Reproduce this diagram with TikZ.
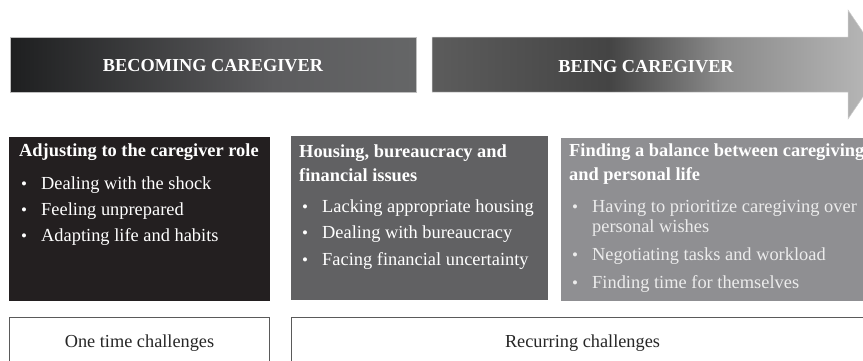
\documentclass[tikz,border=0pt]{standalone}
\usepackage{fontspec}
\setmainfont{Liberation Serif}
\definecolor{boxA}{HTML}{231F20}
\definecolor{boxB}{HTML}{616163}
\definecolor{boxC}{HTML}{8F8F92}
\definecolor{lightTxt}{HTML}{ECECEC}
\definecolor{frameGray}{HTML}{5A5A5A}
\definecolor{sa}{HTML}{1E1F20}
\definecolor{sb}{HTML}{5C5C5E}
\definecolor{sc}{HTML}{656667}
\definecolor{ra}{HTML}{5C5C5C}
\definecolor{rb}{HTML}{444444}
\definecolor{rc}{HTML}{8A8A8A}
\definecolor{rd}{HTML}{BBBBBB}
\pgfdeclarehorizontalshading{barshade}{100bp}{color(0bp)=(sa); color(25bp)=(sa); color(57.5bp)=(sb); color(75bp)=(sc); color(100bp)=(sc)}
\pgfdeclarehorizontalshading{arrowshade}{100bp}{color(0bp)=(ra); color(25bp)=(ra); color(44.5bp)=(rb); color(57bp)=(rc); color(75bp)=(rd); color(100bp)=(rd)}
\tikzset{
  hdr/.style={text=white, font=\fontsize{18.3}{21}\selectfont\bfseries, inner sep=0pt},
  ttl/.style={anchor=base west, inner sep=0pt, text=white, font=\fontsize{18.4}{21}\selectfont\bfseries},
  itm/.style={anchor=base west, inner sep=0pt, text=white, font=\fontsize{18.4}{21}\selectfont},
  itmC/.style={itm, text=lightTxt},
  dot/.style={anchor=base west, inner sep=0pt, text=white, font=\fontsize{17}{21}\selectfont},
  dotC/.style={dot, text=lightTxt},
  frame/.style={draw=frameGray, line width=1pt, fill=white},
  btxt/.style={anchor=base, inner sep=0pt, text=black!85, font=\fontsize{18.3}{21}\selectfont},
}
\begin{document}
\begin{tikzpicture}[x=1pt,y=-1pt]
\useasboundingbox (0,0) rectangle (863,360);
% header bars
\shade[shading=barshade, draw=black!25, line width=0.6pt] (10,37) rectangle (416,92);
\node[hdr, anchor=base] (h1) at (213,71.5) {BECOMING CAREGIVER};
\shade[shading=arrowshade, draw=black!20, line width=0.5pt] (432,37) -- (848,37) -- (848,10) -- (885,64.5) -- (848,119) -- (848,92) -- (432,92) -- cycle;
\node[hdr, anchor=base] (h2) at (646,72) {BEING CAREGIVER};
% panels
\fill[boxA] (9,137) rectangle (270,301);
\fill[boxB] (291,136) rectangle (548,300);
\fill[boxC] (561,138) rectangle (870,301);
% panel 1 text
\node[ttl] (t1) at (19,156.5) {Adjusting to the caregiver role};
\node[dot] (d1a) at (21,189) {\textbullet}; \node[itm] (i1a) at (41,189) {Dealing with the shock};
\node[dot] (d1b) at (21,215.5) {\textbullet}; \node[itm] (i1b) at (41,215.5) {Feeling unprepared};
\node[dot] (d1c) at (21,241) {\textbullet}; \node[itm] (i1c) at (41,241) {Adapting life and habits};
% panel 2 text
\node[ttl] (t2a) at (299,157.5) {Housing, bureaucracy and};
\node[ttl] (t2b) at (299,181) {financial issues};
\node[dot] (d2a) at (302,212) {\textbullet}; \node[itm] (i2a) at (322,212) {Lacking appropriate housing};
\node[dot] (d2b) at (302,238.5) {\textbullet}; \node[itm] (i2b) at (322,238.5) {Dealing with bureaucracy};
\node[dot] (d2c) at (302,265) {\textbullet}; \node[itm] (i2c) at (322,265) {Facing financial uncertainty};
% panel 3 text
\node[ttl] (t3a) at (569,156.5) {Finding a balance between caregiving};
\node[ttl] (t3b) at (569,180.5) {and personal life};
\node[dotC] (d3a) at (572,212) {\textbullet}; \node[itmC] (i3a) at (592,212) {Having to prioritize caregiving over};
\node[itmC] (i3a2) at (592,232.5) {personal wishes};
\node[dotC] (d3b) at (572,260) {\textbullet}; \node[itmC] (i3b) at (592,260) {Negotiating tasks and workload};
\node[dotC] (d3c) at (572,288) {\textbullet}; \node[itmC] (i3c) at (592,288) {Finding time for themselves};
% bottom frames
\draw[frame] (9,317) rectangle (269,372);
\draw[frame] (291,317) rectangle (880,372);
\node[btxt] (b1) at (139.5,347.5) {One time challenges};
\node[btxt] (b2) at (582.5,347.5) {Recurring challenges};
\end{tikzpicture}
\end{document}
